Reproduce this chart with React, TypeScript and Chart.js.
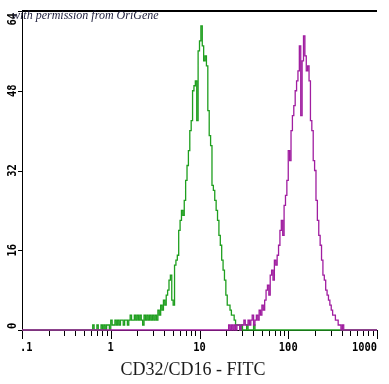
import React, { useEffect, useRef } from "react";
import { Chart, registerables } from "chart.js";

Chart.register(...registerables);

// ---- data ----
const xTickValues = [0.1, 1, 10, 100, 1000];
const xTickLabels = [".1", "1", "10", "100", "1000"];
const yTickValues = [0, 16, 32, 48, 64];
const yTickLabels = ["0", "16", "32", "48", "64"];
const xAxisTitle = "CD32/CD16 - FITC";
const watermark = "with permission from OriGene";

// 256 channels over 4 decades (0.1 .. 1000)
const channelsPerDecade = 64;

// CD32/CD16 - FITC stained (green)
const greenStartChannel = 50;
const greenCounts = [
  0, 1, 0, 0, 1, 0, 0, 1, 0, 1, // 50-59
  0, 1, 1, 0, 2, 1, 1, 2, 1, 2, // 60-69
  1, 2, 2, 1, 2, 2, 1, 2, 3, 2, // 70-79
  2, 3, 2, 3, 2, 3, 2, 1, 3, 2, // 80-89
  3, 2, 3, 2, 3, 2, 3, 2, 4, 3, // 90-99
  5, 4, 6, 5, 7, 8, 10, 11, 6, 5, // 100-109
  13, 14, 15, 20, 22, 24, 23, 26, 30, 33, // 110-119
  36, 40, 42, 48, 49, 50, 42, 56, 58, 61, // 120-129
  57, 54, 55, 53, 44, 39, 37, 29, 28, 26, // 130-139
  24, 22, 19, 17, 14, 12, 10, 7, 5, 5, // 140-149
  4, 3, 3, 2, 1, 1, 1, 0, 1, 0, // 150-159
  0, 0, 1, 0, 0, 0, 0, 1, 0, 0, // 160-169
];

// control (magenta)
const magentaStartChannel = 148;
const magentaCounts = [
  0, 1, 0, 1, 0, 1, 0, 1, 1, 0, // 148-157
  1, 1, 2, 1, 1, 2, 1, 2, 3, 1, // 158-167
  2, 3, 2, 4, 3, 5, 4, 6, 8, 9, // 168-177
  7, 11, 12, 10, 14, 13, 15, 17, 20, 22, // 178-187
  19, 25, 27, 30, 36, 34, 40, 43, 45, 48, // 188-197
  50, 52, 57, 43, 54, 59, 55, 52, 53, 50, // 198-207
  42, 40, 34, 32, 26, 22, 19, 17, 14, 11, // 208-217
  10, 8, 7, 6, 5, 4, 3, 3, 2, 2, // 218-227
  1, 1, 0, 1, 0, // 228-232
];

function toPoints(start: number, counts: number[]) {
  const pts: { x: number; y: number }[] = [{ x: 0.1, y: 0 }];
  counts.forEach((c, i) => {
    pts.push({ x: 0.1 * Math.pow(10, (start + i) / channelsPerDecade), y: c });
  });
  pts.push({ x: 1000, y: 0 });
  return pts;
}

const decorPlugin = {
  id: "flowDecor",
  afterDraw(chart: any) {
    const { ctx, chartArea } = chart;
    const { left, right, top, bottom } = chartArea;
    const xs = chart.scales.x;
    const ys = chart.scales.y;
    ctx.save();
    ctx.strokeStyle = "#000";
    ctx.fillStyle = "#000";
    ctx.lineWidth = 1;

    // top frame line
    ctx.beginPath();
    ctx.lineWidth = 2;
    ctx.moveTo(left, top);
    ctx.lineTo(right, top);
    ctx.stroke();
    ctx.lineWidth = 1;

    // x ticks (major + minor)
    for (let d = -1; d <= 3; d++) {
      for (let m = 1; m <= 9; m++) {
        const v = m * Math.pow(10, d);
        if (v > 1000.0001) break;
        const px = Math.round(xs.getPixelForValue(v)) + 0.5;
        const len = m === 1 ? 8 : 5;
        ctx.beginPath();
        ctx.moveTo(px, bottom + 1);
        ctx.lineTo(px, bottom + 1 + len);
        ctx.stroke();
      }
    }

    // x tick labels
    ctx.font = 'bold 13px "DejaVu Sans Mono"';
    ctx.textBaseline = "middle";
    ctx.textAlign = "center";
    const sx = 0.8;
    xTickValues.forEach((v, i) => {
      const lbl = xTickLabels[i];
      const w = ctx.measureText(lbl).width * sx;
      let cx = xs.getPixelForValue(v);
      if (cx - w / 2 < left - 2) cx = left - 2 + w / 2;
      if (cx + w / 2 > right) cx = right - w / 2;
      ctx.save();
      ctx.translate(cx, 348);
      ctx.scale(sx, 1);
      ctx.fillText(lbl, 0, 0);
      ctx.restore();
    });

    // y ticks
    yTickValues.forEach((v) => {
      const py = Math.round(ys.getPixelForValue(v)) + 0.5;
      ctx.beginPath();
      ctx.moveTo(left - 4, py);
      ctx.lineTo(left, py);
      ctx.stroke();
    });

    // y tick labels (rotated)
    yTickValues.forEach((v, i) => {
      const lbl = yTickLabels[i];
      const w = ctx.measureText(lbl).width * sx;
      let cy = ys.getPixelForValue(v);
      if (cy - w / 2 < top + 2) cy = top + 2 + w / 2;
      if (cy + w / 2 > bottom - 1) cy = bottom - 1 - w / 2;
      ctx.save();
      ctx.translate(13, cy);
      ctx.rotate(-Math.PI / 2);
      ctx.scale(sx, 1);
      ctx.fillText(lbl, 0, 0);
      ctx.restore();
    });

    // axis title
    ctx.font = '18px "Liberation Serif"';
    ctx.fillStyle = "#1a1a1a";
    ctx.textAlign = "center";
    ctx.textBaseline = "alphabetic";
    ctx.fillText(xAxisTitle, 193, 375);
    ctx.restore();
  },
};

export default function App() {
  const ref = useRef<HTMLCanvasElement | null>(null);

  useEffect(() => {
    document.body.style.margin = "0";
    if (!ref.current) return;
    const chart = new Chart(ref.current, {
      type: "line",
      data: {
        datasets: [
          {
            label: "control",
            data: toPoints(magentaStartChannel, magentaCounts),
            borderColor: "#a01ea0",
            borderWidth: 1.3,
            pointRadius: 0,
            stepped: true,
            fill: false,
            clip: 3,
          },
          {
            label: "CD32/CD16",
            data: toPoints(greenStartChannel, greenCounts),
            borderColor: "#1f9f1f",
            borderWidth: 1.3,
            pointRadius: 0,
            stepped: true,
            fill: false,
            clip: 3,
          },
        ],
      },
      options: {
        responsive: false,
        animation: false,
        layout: { padding: { top: 11, right: 12, left: 0, bottom: 0 } },
        plugins: {
          legend: { display: false },
          tooltip: { enabled: false },
        },
        scales: {
          x: {
            type: "logarithmic",
            min: 0.1,
            max: 1000,
            grid: { display: false },
            border: { display: true, color: "#000", width: 1 },
            ticks: { display: false },
            afterFit: (s: any) => {
              s.height = 54;
            },
          },
          y: {
            type: "linear",
            min: 0,
            max: 64,
            grid: { display: false },
            border: { display: true, color: "#000", width: 1 },
            ticks: { display: false, stepSize: 16 },
            afterFit: (s: any) => {
              s.width = 22;
            },
          },
        },
      },
      plugins: [decorPlugin],
    });
    return () => chart.destroy();
  }, []);

  return (
    <div style={{ position: "relative", width: 389, height: 384, background: "#fff" }}>
      <canvas ref={ref} width={389} height={384} style={{ display: "block" }} />
      <div
        style={{
          position: "absolute",
          left: 12,
          top: 8,
          fontFamily: '"Liberation Serif", serif',
          fontStyle: "italic",
          fontSize: 12,
          color: "#1c1c3a",
          whiteSpace: "nowrap",
          pointerEvents: "none",
        }}
      >
        {watermark}
      </div>
    </div>
  );
}
